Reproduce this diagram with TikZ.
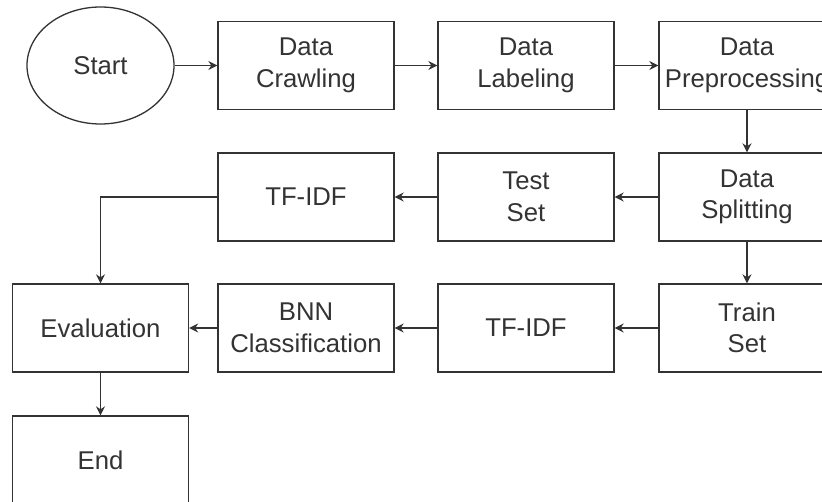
\documentclass[tikz,border=0pt]{standalone}
\usepackage{fontspec}
\setmainfont{Liberation Sans}
\usetikzlibrary{shapes.geometric,arrows.meta}
\definecolor{dgray}{HTML}{333333}
\tikzstyle{pbox}=[rectangle, draw=dgray, line width=1.3pt, minimum width=176pt, minimum height=88pt, inner sep=0pt, align=center, text=dgray, font=\fontsize{25.7}{31.5}\selectfont]
\tikzstyle{pell}=[ellipse, draw=dgray, line width=1.3pt, minimum width=147pt, minimum height=117pt, inner sep=0pt, text=dgray, font=\fontsize{25.7}{31.5}\selectfont]
\tikzstyle{flow}=[draw=dgray, line width=1.3pt, -{Stealth[length=9pt,width=9pt]}]

\begin{document}
\begin{tikzpicture}[x=1pt, y=-1pt]
\useasboundingbox (0,0) rectangle (822,502);

\node[pell] (n1) at (100.5,65.5) {Start};
\node[pbox] (n2) at (306,65.5) {Data\\Crawling};
\node[pbox] (n3) at (526,65.5) {Data\\Labeling};
\node[pbox] (n4) at (747,65.5) {Data\\Preprocessing};

\node[pbox] (n5) at (747,197) {Data\\Splitting};
\node[pbox] (n6) at (526,197) {Test\\Set};
\node[pbox] (n7) at (306,197) {TF-IDF};

\node[pbox] (n8) at (747,328) {Train\\Set};
\node[pbox] (n9) at (526,328) {TF-IDF};
\node[pbox] (n10) at (306,328) {BNN\\Classification};
\node[pbox] (n11) at (100.5,328) {Evaluation};
\node[pbox] (n12) at (100.5,460) {End};

\draw[flow] (n1) -- (n2);
\draw[flow] (n2) -- (n3);
\draw[flow] (n3) -- (n4);
\draw[flow] (n4) -- (n5);
\draw[flow] (n5) -- (n6);
\draw[flow] (n6) -- (n7);
\draw[flow] (n7.west) -| (n11.north);
\draw[flow] (n5) -- (n8);
\draw[flow] (n8) -- (n9);
\draw[flow] (n9) -- (n10);
\draw[flow] (n10) -- (n11);
\draw[flow] (n11) -- (n12);

\end{tikzpicture}
\end{document}
